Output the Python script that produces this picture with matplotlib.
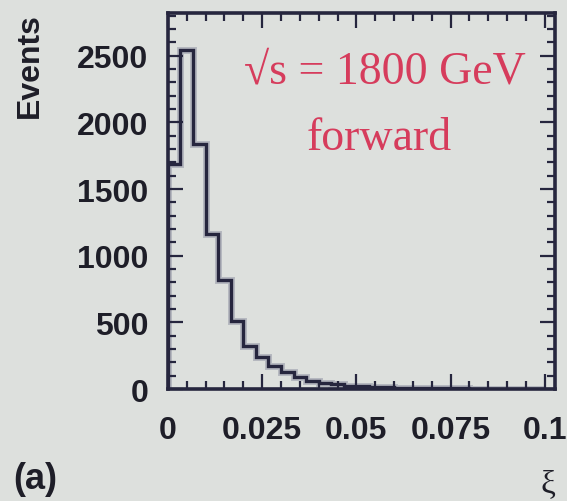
import numpy as np
import matplotlib
matplotlib.use('Agg')
import matplotlib.pyplot as plt
from matplotlib.ticker import MultipleLocator

# xi distribution, 30 bins from 0 to 0.1
edges = np.linspace(0, 0.1, 31)
counts = [1690, 2540, 1840, 1160, 820, 510, 320, 240, 170, 125,
          90, 60, 45, 35, 25, 20, 15, 12, 10, 8,
          7, 6, 5, 5, 4, 3, 3, 2, 2, 2]
xticks = [0, 0.025, 0.05, 0.075, 0.1]
xticklabels = ['0', '0.025', '0.05', '0.075', '0.1']
yticks = [0, 500, 1000, 1500, 2000, 2500]

bg = '#dde0dd'
ink = '#26263e'

fig = plt.figure(figsize=(5.67, 5.02), dpi=100, facecolor=bg)
ax = fig.add_axes([0.296, 0.223, 0.683, 0.749], facecolor=bg)

# soft shadow + main histogram outline
ax.stairs(counts, edges, color='#9a9cab', lw=5, alpha=0.6)
ax.stairs(counts, edges, color=ink, lw=2.4)

ax.set_xlim(0, 0.1027)
ax.set_ylim(0, 2820)

ax.set_xticks(xticks)
ax.set_xticklabels(xticklabels)
ax.set_yticks(yticks)
ax.xaxis.set_minor_locator(MultipleLocator(0.005))
ax.yaxis.set_minor_locator(MultipleLocator(100))

ax.tick_params(which='both', direction='in', top=True, right=True, color=ink, width=1.6)
ax.tick_params(which='major', length=11)
ax.tick_params(which='minor', length=6)
ax.tick_params(axis='x', which='major', pad=19)
ax.tick_params(axis='y', which='major', pad=14)
for lab in ax.get_xticklabels() + ax.get_yticklabels():
    lab.set_fontfamily('Liberation Sans')
    lab.set_fontweight('bold')
    lab.set_fontsize(23)
    lab.set_color('#1e1e28')

for sp in ax.spines.values():
    sp.set_color(ink)
    sp.set_linewidth(2.6)

red = '#d63c5c'
ax.text(0.56, 0.816, '\u221as = 1800 GeV', transform=ax.transAxes, ha='center', va='baseline',
        fontsize=33, color=red, family='Liberation Serif')
ax.text(0.545, 0.638, 'forward', transform=ax.transAxes, ha='center', va='baseline',
        fontsize=33, color=red, family='Liberation Serif')

fig.text(0.053, 0.87, 'Events', rotation=90, ha='center', va='center',
         fontsize=23, fontweight='bold', family='Liberation Sans', color='#1e1e28')
fig.text(0.966, 0.035, '\u03be', ha='center', va='center',
         fontsize=24, family='Liberation Serif', color='#1e1e28')
fig.text(0.063, 0.045, '(a)', ha='center', va='center',
         fontsize=26, fontweight='bold', family='Liberation Sans', color='#1e1e28')

fig.savefig('out.png', dpi=100, facecolor=bg)
